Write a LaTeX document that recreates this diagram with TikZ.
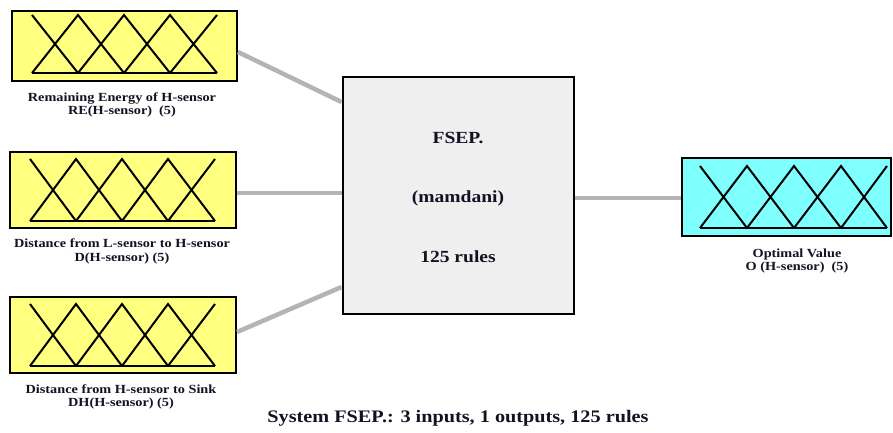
\documentclass[tikz,border=0pt]{standalone}
\usepackage{fontspec}
\setmainfont{Liberation Serif}
\newfontfamily\widefont[FakeStretch=1.15]{Liberation Serif}
\usetikzlibrary{shadows}
\definecolor{boxyellow}{RGB}{255,255,128}
\definecolor{boxcyan}{RGB}{128,255,255}
\definecolor{boxgray}{RGB}{239,239,239}
\definecolor{connGray}{RGB}{180,180,180}
\definecolor{txtdark}{RGB}{18,18,36}
\tikzset{
  fbox/.style={draw=black, line width=2pt, rectangle, inner sep=0pt,
    drop shadow={shadow xshift=1.2pt, shadow yshift=-1.2pt, fill=black, opacity=1}},
  mfline/.style={draw=black, line width=2pt, line join=miter},
  conn/.style={draw=connGray, line width=4.5pt},
  lbl/.style={align=center, inner sep=0pt, text=txtdark,
    font=\widefont\bfseries\fontsize{12.4}{13.5}\selectfont},
  ctext/.style={align=center, inner sep=0pt, text=txtdark,
    font=\widefont\bfseries\fontsize{17}{17}\selectfont},
}
% membership functions: x of 5 peaks, top y, base y
\newcommand{\mfset}[7]{%
  \draw[mfline] (#1,#6) -- (#2,#7);
  \draw[mfline] (#1,#7) -- (#2,#6) -- (#3,#7);
  \draw[mfline] (#2,#7) -- (#3,#6) -- (#4,#7);
  \draw[mfline] (#3,#7) -- (#4,#6) -- (#5,#7);
  \draw[mfline] (#4,#7) -- (#5,#6);
  \draw[mfline] (#1,#7) -- (#5,#7);
}
\begin{document}
\begin{tikzpicture}[x=1pt,y=-1pt]
\useasboundingbox[fill=white] (0,0) rectangle (893,432);
% input boxes
\node[fbox, fill=boxyellow, minimum width=225pt, minimum height=70pt] (in1) at (124.5,46) {};
\node[fbox, fill=boxyellow, minimum width=226pt, minimum height=76pt] (in2) at (123,190) {};
\node[fbox, fill=boxyellow, minimum width=226pt, minimum height=76pt] (in3) at (123,335) {};
% central box
\node[fbox, fill=boxgray, minimum width=231pt, minimum height=237pt] (fsep) at (458,195) {};
% output box
\node[fbox, fill=boxcyan, minimum width=209pt, minimum height=78pt] (out) at (786.5,197) {};
% membership functions
\mfset{32}{78}{124}{170}{217}{15}{73}
\mfset{30}{76}{122}{168}{215}{159}{221}
\mfset{30}{76}{122}{168}{215}{304}{366}
\mfset{700}{747}{794}{841}{887}{166}{228}
% connectors
\draw[conn] ([yshift=-6pt]in1.east) -- ([yshift=93pt]fsep.west);
\draw[conn] ([yshift=-3pt]in2.east) -- ([yshift=2pt]fsep.west);
\draw[conn] ([yshift=3pt]in3.east) -- ([yshift=-92pt]fsep.west);
\draw[conn] ([yshift=-3pt]fsep.east) -- ([yshift=-1pt]out.west);
% central text
\node[ctext] (t1) at (458,138) {FSEP.};
\node[ctext] (t2) at (458,198) {(mamdani)};
\node[ctext] (t3) at (458,257) {125 rules};
% labels
\node[lbl] (l1) at (122,105) {Remaining Energy of H-sensor\\RE(H-sensor)\ \ (5)};
\node[lbl] (l2) at (122,251.5) {Distance from L-sensor to H-sensor\\D(H-sensor) (5)};
\node[lbl] (l3) at (121,397) {Distance from H-sensor to Sink\\DH(H-sensor) (5)};
\node[lbl] (l4) at (797,261) {Optimal Value\\O (H-sensor)\ \ (5)};
% title
\node[ctext, font=\widefont\bfseries\fontsize{17.6}{17.6}\selectfont] (title) at (458,418) {System FSEP.: 3 inputs, 1 outputs, 125 rules};
\end{tikzpicture}
\end{document}
